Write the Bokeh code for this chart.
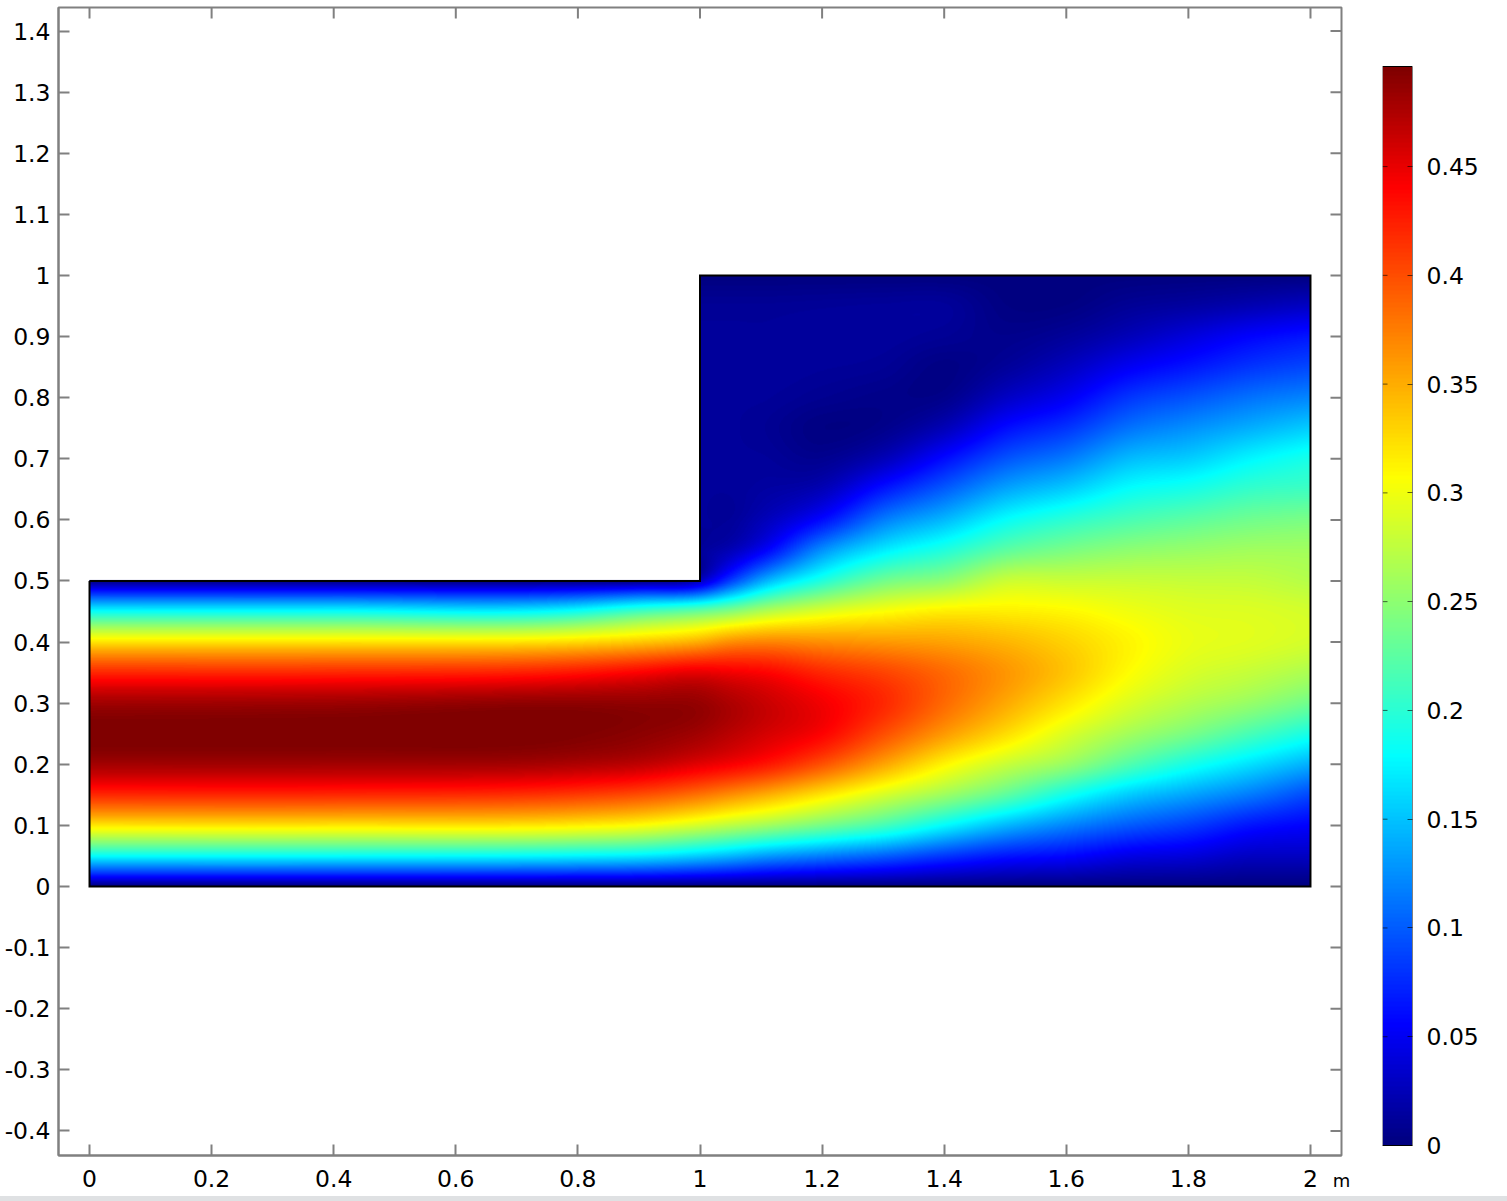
import numpy as np
from bokeh.embed import file_html
from bokeh.resources import INLINE
from bokeh.plotting import figure
from bokeh.layouts import row, column
from bokeh.models import LinearAxis, FixedTicker, Range1d, LinearColorMapper, Div

FONT = "DejaVu Sans"
GREY = "#808080"

x_tick_labels = ["0", "0.2", "0.4", "0.6", "0.8", "1", "1.2", "1.4", "1.6", "1.8", "2"]
y_tick_labels = ["-0.4", "-0.3", "-0.2", "-0.1", "0", "0.1", "0.2", "0.3", "0.4", "0.5", "0.6",
                 "0.7", "0.8", "0.9", "1", "1.1", "1.2", "1.3", "1.4"]
bar_tick_labels = ["0", "0.05", "0.1", "0.15", "0.2", "0.25", "0.3", "0.35", "0.4", "0.45"]
bar_max = 0.496
x_unit = "m"

# domain outline (m)
outline_x = [0, 1, 1, 2, 2, 0, 0]
outline_y = [0.5, 0.5, 1, 1, 0, 0, 0.5]

# velocity magnitude: one list per x station, rows are y = 0, 0.05 ... 1
y_rows = [0, .05, .1, .15, .2, .25, .3, .35, .4, .45, .5, .55, .6, .65, .7, .75, .8, .85, .9, .95, 1]
N = float("nan")
above = [N] * 10
x_stations = [0, .4, .8, .9, 1, 1.05, 1.1, 1.2, 1.3, 1.4, 1.5, 1.6, 1.7, 1.8, 1.9, 2]
s_000 = [0, .18, .32, .42, .48, .497, .48, .42, .32, .18, 0] + above
s_040 = [0, .18, .32, .42, .48, .497, .482, .42, .32, .18, 0] + above
s_080 = [0, .175, .315, .41, .475, .495, .488, .43, .325, .185, 0] + above
s_090 = [0, .17, .306, .40, .468, .49, .487, .44, .335, .21, 0] + above
s_100 = [0, .155, .285, .38, .452, .48, .485, .45, .35, .23, .03, .012, .012, .012, .012, .012, .012, .012, .012, .01, 0]
s_105 = [0, .145, .273, .366, .443, .47, .475, .445, .365, .245, .085, .025, .012, .012, .012, .012, .012, .012, .012, .01, 0]
s_110 = [0, .133, .262, .352, .432, .46, .465, .44, .37, .265, .135, .05, .024, .015, .012, .01, .012, .013, .012, .01, 0]
s_120 = [0, .117, .238, .32, .398, .44, .445, .42, .365, .29, .195, .125, .06, .025, .008, .002, .008, .012, .013, .011, 0]
s_130 = [0, .102, .213, .287, .355, .40, .42, .405, .36, .305, .235, .17, .115, .065, .025, .006, .005, .01, .013, .012, 0]
s_140 = [0, .082, .178, .258, .312, .36, .385, .385, .355, .315, .25, .195, .145, .10, .06, .025, .006, .003, .01, .012, 0]
s_150 = [0, .066, .145, .226, .28, .325, .352, .362, .345, .315, .28, .225, .18, .135, .095, .06, .03, .012, .006, .002, 0]
s_160 = [0, .058, .12, .187, .255, .29, .32, .337, .33, .31, .28, .24, .20, .155, .115, .08, .05, .028, .012, .002, 0]
s_170 = [0, .045, .10, .155, .22, .262, .29, .308, .312, .30, .28, .25, .215, .18, .145, .11, .08, .05, .025, .01, 0]
s_180 = [0, .04, .085, .135, .19, .24, .27, .288, .297, .292, .278, .255, .225, .19, .155, .125, .095, .065, .04, .015, 0]
s_190 = [0, .03, .065, .115, .165, .215, .255, .278, .292, .29, .277, .26, .235, .205, .175, .14, .11, .08, .055, .022, 0]
s_200 = [0, .03, .055, .09, .14, .19, .235, .265, .285, .285, .27, .26, .24, .21, .19, .155, .12, .09, .065, .03, 0]
stations = [s_000, s_040, s_080, s_090, s_100, s_105, s_110, s_120, s_130, s_140, s_150,
            s_160, s_170, s_180, s_190, s_200]

# colour scale: stops as (fraction, r, g, b)
stops_f = [0, .11, .36, .62, .89, 1]
stops_r = [0, 0, 0, 255, 255, 128]
stops_g = [0, 0, 255, 255, 0, 0]
stops_b = [128, 255, 255, 0, 0, 0]


def shade(grid, vals, q):
    """Smooth shading between the read values (NaN where the domain has no value)."""
    grid = np.asarray(grid, float)
    vals = np.asarray(vals, float)
    ok = ~np.isnan(vals)
    g, v = grid[ok], vals[ok]
    m = np.gradient(v, g)
    out = np.full(q.shape, np.nan)
    inside = (q >= g[0]) & (q <= g[-1])
    i = np.clip(np.searchsorted(g, q[inside], side="right") - 1, 0, len(g) - 2)
    h = g[i + 1] - g[i]
    t = (q[inside] - g[i]) / h
    out[inside] = ((2 * t**3 - 3 * t**2 + 1) * v[i] + (t**3 - 2 * t**2 + t) * h * m[i]
                   + (-2 * t**3 + 3 * t**2) * v[i + 1] + (t**3 - t**2) * h * m[i + 1])
    return out


nx, ny = 1221, 611
qx = (np.arange(nx) + .5) / nx * 2
qy = (np.arange(ny) + .5) / ny
cols = np.array([shade(y_rows, s, qy) for s in stations])
field = np.array([shade(x_stations, cols[:, j], qx) for j in range(ny)])
field = np.where(np.isnan(field), np.nan, np.clip(field, 0, bar_max))
field[:, qx < 1] = np.where(qy[:, None] > .5, np.nan, field[:, qx < 1])

fr = np.linspace(0, 1, 256)
palette = ["#%02x%02x%02x" % (int(a), int(b), int(c)) for a, b, c in zip(
    np.interp(fr, stops_f, stops_r), np.interp(fr, stops_f, stops_g), np.interp(fr, stops_f, stops_b))]
mapper = LinearColorMapper(palette=palette, low=0, high=bar_max, nan_color="#00000000")


def style_axis(ax, ticks, labels, color=GREY, width=2, tick=11, standoff=8, alpha=1.0):
    ax.ticker = FixedTicker(ticks=ticks)
    ax.major_label_overrides = {t: s for t, s in zip(ticks, labels)}
    ax.minor_tick_line_color = None
    ax.major_tick_in = tick
    ax.major_tick_out = 0
    ax.major_tick_line_color = color
    ax.major_tick_line_width = width
    ax.major_tick_line_alpha = alpha
    ax.axis_line_color = GREY
    ax.axis_line_width = 2 if color == GREY else 1
    ax.major_label_text_font = FONT
    ax.major_label_text_font_size = "23.5px"
    ax.major_label_text_color = "#000000"
    ax.major_label_standoff = standoff


xt = [float(s) for s in x_tick_labels]
yt = [float(s) for s in y_tick_labels]
x_lo, x_hi = -0.0508, 2.0508
y_lo, y_hi = -0.4403, 1.4386

main = figure(width=1352, height=1196, frame_width=1283, frame_height=1148,
              x_range=Range1d(x_lo, x_hi), y_range=Range1d(y_lo, y_hi),
              output_backend="svg", toolbar_location=None,
              x_axis_location=None, y_axis_location=None,
              min_border_left=58, min_border_right=11, min_border_top=7, min_border_bottom=41,
              outline_line_color=GREY, outline_line_width=2)
main.grid.visible = False

left = LinearAxis()
style_axis(left, yt, y_tick_labels)
main.add_layout(left, "left")
bottom = LinearAxis(axis_label=x_unit, axis_label_align="end", axis_label_standoff=-20,
                    axis_label_text_font=FONT, axis_label_text_font_size="18px",
                    axis_label_text_font_style="normal", axis_label_text_color="#000000",
                    axis_label_text_align="right")
style_axis(bottom, xt, x_tick_labels, standoff=14)
main.add_layout(bottom, "below")

# ticks of the opposite frame sides, which carry no labels
main.ray(x=[x_hi] * len(yt), y=yt, length=11, length_units="screen", angle=np.pi,
         line_color=GREY, line_width=2)
main.ray(x=xt, y=[y_hi] * len(xt), length=11, length_units="screen", angle=-np.pi / 2,
         line_color=GREY, line_width=2)

main.image(image=[field], x=0, y=0, dw=2, dh=1, color_mapper=mapper)
main.line(outline_x, outline_y, line_color="#000000", line_width=2, line_join="miter")

# colour bar: same frame as the main plot, so the row keeps both frames aligned
per_px = bar_max / 1079
bar = figure(width=155, height=1196, frame_width=30, frame_height=1148,
             x_range=Range1d(0, 1), y_range=Range1d(-10 * per_px, 1138 * per_px),
             output_backend="svg", toolbar_location=None,
             x_axis_location=None, y_axis_location=None,
             min_border_left=30, min_border_right=95, min_border_top=7, min_border_bottom=41,
             outline_line_color=None)
bar.grid.visible = False
bt = [float(s) for s in bar_tick_labels]
bar.image(image=[np.linspace(0, bar_max, 1079).reshape(-1, 1)], x=0, y=0, dw=1, dh=bar_max, color_mapper=mapper)
bar_right = LinearAxis(bounds=(0, bar_max))
style_axis(bar_right, bt, bar_tick_labels, color="#000000", width=1, tick=5, standoff=14, alpha=0.6)
bar.add_layout(bar_right, "right")
bar.ray(x=[0] * len(bt), y=bt, length=5, length_units="screen", angle=0,
        line_color="#000000", line_width=1, line_alpha=0.6)
bar.segment(x0=[0, 0, 0], y0=[0, bar_max, 0], x1=[1, 1, 0], y1=[0, bar_max, bar_max],
            line_color=["#000000", "#000000", GREY], line_width=1)

strip = Div(text="", width=1507, height=5, margin=0, styles={"background-color": "#dfe1e3"})
p = column(row(main, bar, spacing=0), strip, spacing=0)

open("out.html", "w").write(file_html(p, INLINE))
